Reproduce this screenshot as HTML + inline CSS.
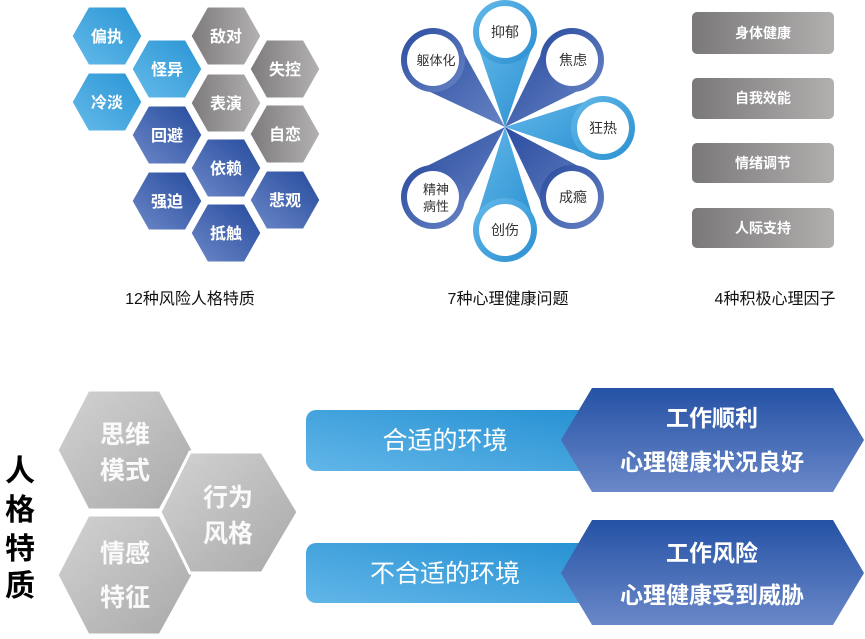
<!DOCTYPE html>
<html><head><meta charset="utf-8"><style>
html,body{margin:0;padding:0;background:#fff;}
svg{display:block;}
text{font-family:"Liberation Sans","Noto Sans CJK SC",sans-serif;}
</style></head><body>
<svg width="865" height="639" viewBox="0 0 865 639" xmlns="http://www.w3.org/2000/svg">
<defs>
<linearGradient id="lb" x1="1" y1="0" x2="0" y2="1"><stop offset="0" stop-color="#2894d4"/><stop offset="1" stop-color="#66bbea"/></linearGradient>
<linearGradient id="gr" x1="0" y1="0" x2="1" y2="0"><stop offset="0" stop-color="#7c7a7a"/><stop offset="1" stop-color="#b4b2b2"/></linearGradient>
<linearGradient id="db" x1="1" y1="0" x2="0" y2="1"><stop offset="0" stop-color="#24499c"/><stop offset="1" stop-color="#6d89c8"/></linearGradient>
<linearGradient id="bx" x1="0" y1="0" x2="1" y2="0"><stop offset="0" stop-color="#7a7878"/><stop offset="1" stop-color="#b2afaf"/></linearGradient>
<linearGradient id="bg" x1="0" y1="0" x2="1" y2="1"><stop offset="0" stop-color="#d4d3d3"/><stop offset="1" stop-color="#a9a8a8"/></linearGradient>
<linearGradient id="bar" x1="0" y1="1" x2="1" y2="0"><stop offset="0" stop-color="#62b6e8"/><stop offset="1" stop-color="#2590d2"/></linearGradient>
<linearGradient id="dh" x1="0" y1="0" x2="0" y2="1"><stop offset="0" stop-color="#2552a5"/><stop offset="1" stop-color="#6a88c8"/></linearGradient>
<linearGradient id="pl" x1="0" y1="0" x2="1" y2="1"><stop offset="0" stop-color="#64b9ea"/><stop offset="1" stop-color="#2a8fd0"/></linearGradient>
<linearGradient id="pd" x1="0" y1="0" x2="1" y2="1"><stop offset="0" stop-color="#2a4c9f"/><stop offset="1" stop-color="#6783c4"/></linearGradient>
<polygon id="hx" points="-36,0 -19,-30 19,-30 36,0 19,30 -19,30" stroke="#fff" stroke-width="3"/>
</defs>

<g font-size="16" text-anchor="middle" font-weight="bold">
<use href="#hx" x="107" y="36" fill="url(#lb)"/><text x="107" y="42" fill="#fff">偏执</text>
<use href="#hx" x="167" y="69" fill="url(#lb)"/><text x="167" y="75" fill="#fff">怪异</text>
<use href="#hx" x="107" y="102" fill="url(#lb)"/><text x="107" y="108" fill="#fff">冷淡</text>
<use href="#hx" x="226" y="36" fill="url(#gr)"/><text x="226" y="42" fill="#fff">敌对</text>
<use href="#hx" x="285" y="69" fill="url(#gr)"/><text x="285" y="75" fill="#fff">失控</text>
<use href="#hx" x="226" y="103" fill="url(#gr)"/><text x="226" y="109" fill="#fff">表演</text>
<use href="#hx" x="285" y="134" fill="url(#gr)"/><text x="285" y="140" fill="#fff">自恋</text>
<use href="#hx" x="167" y="135" fill="url(#db)"/><text x="167" y="141" fill="#fff">回避</text>
<use href="#hx" x="226" y="168" fill="url(#db)"/><text x="226" y="174" fill="#fff">依赖</text>
<use href="#hx" x="167" y="201" fill="url(#db)"/><text x="167" y="207" fill="#fff">强迫</text>
<use href="#hx" x="285" y="200" fill="url(#db)"/><text x="285" y="206" fill="#fff">悲观</text>
<use href="#hx" x="226" y="233" fill="url(#db)"/><text x="226" y="239" fill="#fff">抵触</text>
</g>

<g>
<polygon points="505,127 473,32 537,32" fill="url(#pl)"/><circle cx="505" cy="32" r="32" fill="url(#pl)"/>
<polygon points="505,127 594.6,82.6 549.4,37.4" fill="url(#pd)"/><circle cx="572" cy="60" r="32" fill="url(#pd)"/>
<polygon points="505,127 603,96 603,160" fill="url(#pl)"/><circle cx="603" cy="128" r="32" fill="url(#pl)"/>
<polygon points="505,127 549,219 595,175" fill="url(#pd)"/><circle cx="572" cy="197" r="32" fill="url(#pd)"/>
<polygon points="505,127 473,230 537,230" fill="url(#pl)"/><circle cx="505" cy="230" r="32" fill="url(#pl)"/>
<polygon points="505,127 455,220 411,174" fill="url(#pd)"/><circle cx="433" cy="197" r="32" fill="url(#pd)"/>
<polygon points="505,127 455,37 411,83" fill="url(#pd)"/><circle cx="433" cy="60" r="32" fill="url(#pd)"/>
<g fill="#fff">
<circle cx="505" cy="32" r="26"/><circle cx="572" cy="60" r="26"/><circle cx="603" cy="128" r="26"/>
<circle cx="572" cy="197" r="26"/><circle cx="505" cy="230" r="26"/><circle cx="433" cy="197" r="26"/><circle cx="433" cy="60" r="26"/>
</g>
<g font-size="14" fill="#333" text-anchor="middle">
<text x="505" y="37">抑郁</text><text x="573" y="65">焦虑</text><text x="603" y="133">狂热</text>
<text x="573" y="202">成瘾</text><text x="505" y="235">创伤</text>
<text x="436" y="194" font-size="13">精神</text><text x="436" y="211" font-size="13">病性</text>
<text x="436" y="65" font-size="13">躯体化</text>
</g>
</g>

<g font-size="14" fill="#fff" text-anchor="middle" font-weight="bold">
<rect x="692" y="12" width="142" height="42" rx="5" fill="url(#bx)"/><text x="763" y="38">身体健康</text>
<rect x="692" y="78" width="142" height="41" rx="5" fill="url(#bx)"/><text x="763" y="103">自我效能</text>
<rect x="692" y="143" width="142" height="40" rx="5" fill="url(#bx)"/><text x="763" y="168">情绪调节</text>
<rect x="692" y="208" width="142" height="40" rx="5" fill="url(#bx)"/><text x="763" y="233">人际支持</text>
</g>

<g font-size="16" fill="#111" text-anchor="middle">
<text x="190" y="304">12种风险人格特质</text>
<text x="508" y="304">7种心理健康问题</text>
<text x="775" y="304">4种积极心理因子</text>
</g>

<g font-size="30" font-weight="bold" fill="#000" text-anchor="middle">
<text x="20" y="481">人</text><text x="20" y="520">格</text><text x="20" y="559">特</text><text x="20" y="596">质</text>
</g>
<g stroke="#fff" stroke-width="3">
<polygon points="57,450 88,390 160,390 193,450 160,510 88,510" fill="url(#bg)"/>
<polygon points="57,575 88,515 160,515 193,575 160,635 88,635" fill="url(#bg)"/>
<polygon points="160,512 190,452 262,452 298,512 262,573 190,573" fill="url(#bg)"/>
</g>
<g font-size="25" fill="#fafafa" text-anchor="middle" font-weight="bold">
<text x="125" y="443">思维</text><text x="125" y="479">模式</text>
<text x="228" y="506">行为</text><text x="228" y="542">风格</text>
<text x="125" y="562">情感</text><text x="125" y="606">特征</text>
</g>

<rect x="306" y="410" width="300" height="61" rx="10" fill="url(#bar)"/>
<rect x="306" y="543" width="300" height="60" rx="10" fill="url(#bar)"/>
<polygon points="561,440 592,388 833,388 864,440 833,492 592,492" fill="url(#dh)"/>
<polygon points="561,573 592,520 833,520 864,573 833,625 592,625" fill="url(#dh)"/>
<g font-size="25" fill="#fff" text-anchor="middle">
<text x="445" y="449">合适的环境</text>
<text x="445" y="582">不合适的环境</text>
</g>
<g font-size="23" fill="#fff" text-anchor="middle" font-weight="bold">
<text x="712" y="426">工作顺利</text><text x="712" y="470">心理健康状况良好</text>
<text x="712" y="561">工作风险</text><text x="712" y="603">心理健康受到威胁</text>
</g>
</svg>
</body></html>
